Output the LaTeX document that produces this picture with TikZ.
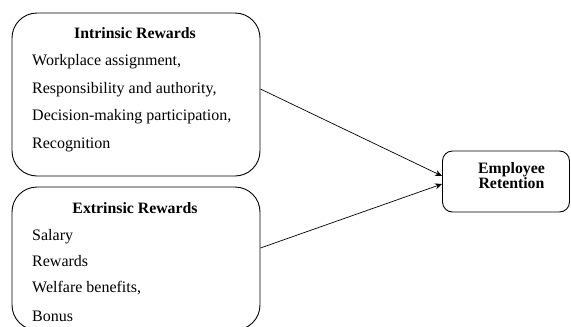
\documentclass[tikz,border=0pt]{standalone}
\usepackage{fontspec}
\setmainfont{Liberation Serif}
\usetikzlibrary{arrows.meta}
\tikzset{
  bigbox/.style={draw, line width=0.9pt, rounded corners=25pt, inner sep=0pt},
  smallbox/.style={draw, line width=0.9pt, rounded corners=10pt, inner sep=0pt},
  title/.style={font=\fontsize{15.8}{17}\selectfont\bfseries, anchor=base, inner sep=0pt},
  item/.style={font=\fontsize{16}{17}\selectfont, anchor=base west, inner sep=0pt},
  conn/.style={line width=0.7pt, -{Stealth[length=7pt,width=6pt]}}
}
\begin{document}
\begin{tikzpicture}[x=1pt,y=-1pt]
\useasboundingbox (0,0) rectangle (571,327);
\clip (0,0) rectangle (571,327);
\node[bigbox, minimum width=248pt, minimum height=163pt] (b1) at (136,94.5) {};
\node[bigbox, minimum width=248pt, minimum height=143pt] (b2) at (136,258.5) {};
\node[smallbox, minimum width=127pt, minimum height=61pt] (b3) at (506,181.5) {};
\node[title] (t1) at (135,38.5) {Intrinsic Rewards};
\node[item] (i1) at (32,65.5) {Workplace assignment,};
\node[item] (i2) at (32,93) {Responsibility and authority,};
\node[item] (i3) at (32,120.5) {Decision-making participation,};
\node[item] (i4) at (32,148) {Recognition};
\node[title] (t2) at (135,213) {Extrinsic Rewards};
\node[item] (e1) at (32,240) {Salary};
\node[item] (e2) at (32,266) {Rewards};
\node[item] (e3) at (32,292) {Welfare benefits,};
\node[item] (e4) at (32,321) {Bonus};
\node[title] (r1) at (511.5,173.5) {Employee};
\node[title] (r2) at (511.5,188.5) {Retention};
\draw[conn] ([yshift=5.5pt]b1.east) -- ([yshift=5.5pt]b3.west);
\draw[conn] ([yshift=10.5pt]b2.east) -- ([yshift=-2.5pt]b3.west);
\end{tikzpicture}
\end{document}
